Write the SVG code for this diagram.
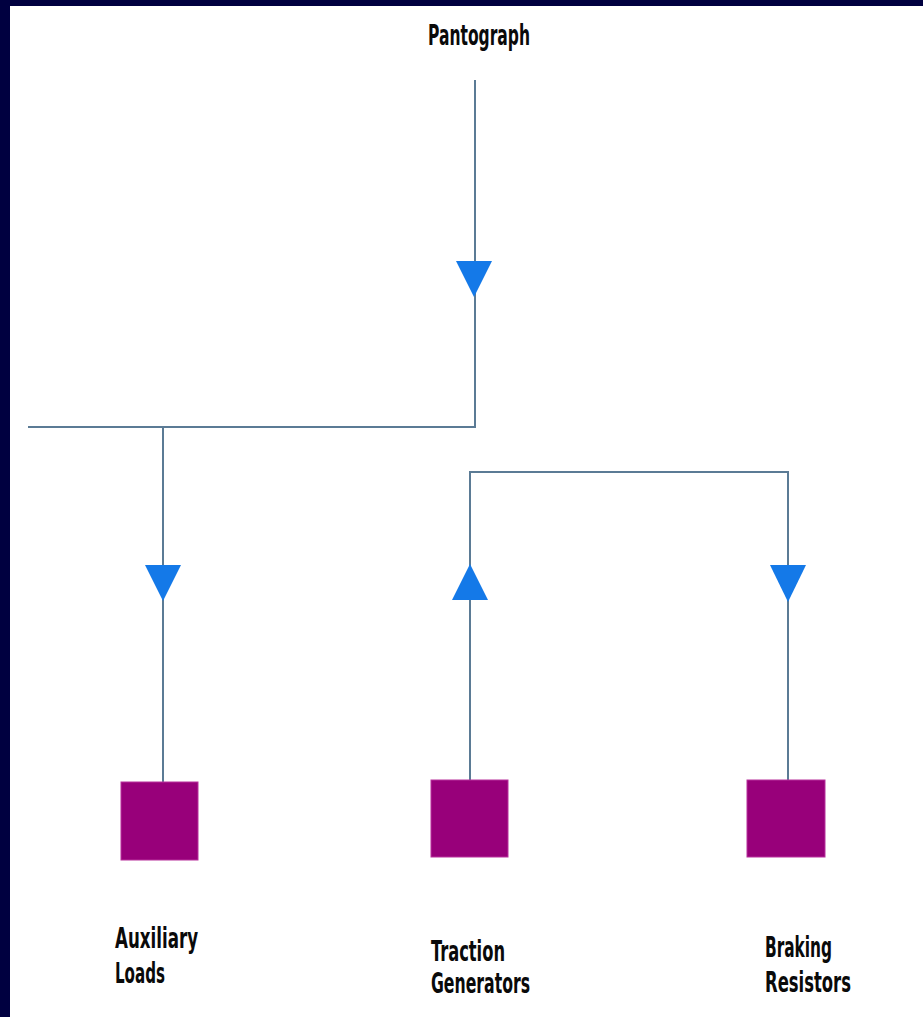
<svg xmlns="http://www.w3.org/2000/svg" width="923" height="1017" viewBox="0 0 923 1017">
<style>
.wire{fill:none;stroke:#5b7b95;stroke-width:2}
.arrow{fill:#1479e8}
.box{fill:#98007a;stroke:#b8309c;stroke-width:1}
.lbl{font-family:"DejaVu Sans Condensed","DejaVu Sans",sans-serif;font-stretch:condensed;font-weight:bold;font-size:28px;fill:#0a0a0a}
</style>
<rect x="0" y="0" width="923" height="1017" fill="#000040"/>
<rect x="10" y="6" width="913" height="1011" fill="#ffffff"/>
<g id="connectors">
<polyline class="wire" points="475,80 475,427 28,427"/>
<polyline class="wire" points="163,427 163,782"/>
<polyline class="wire" points="470,780 470,472 788,472 788,780"/>
<polygon class="arrow" points="456,261 492,261 474,297"/>
<polygon class="arrow" points="145,565 181,565 163,601"/>
<polygon class="arrow" points="452,600 488,600 470,564"/>
<polygon class="arrow" points="770,565 806,565 788,602"/>
</g>
<g id="pantograph">
<text class="lbl" x="428" y="45" textLength="102" lengthAdjust="spacingAndGlyphs">Pantograph</text>
</g>
<g id="auxiliary-loads">
<rect class="box" x="121" y="782" width="77" height="78"/>
<text class="lbl" x="115" y="948" textLength="83" lengthAdjust="spacingAndGlyphs">Auxiliary</text>
<text class="lbl" x="115" y="983" textLength="50" lengthAdjust="spacingAndGlyphs">Loads</text>
</g>
<g id="traction-generators">
<rect class="box" x="431" y="780" width="77" height="77"/>
<text class="lbl" x="431" y="961" textLength="74" lengthAdjust="spacingAndGlyphs">Traction</text>
<text class="lbl" x="431" y="993" textLength="99" lengthAdjust="spacingAndGlyphs">Generators</text>
</g>
<g id="braking-resistors">
<rect class="box" x="747" y="780" width="78" height="77"/>
<text class="lbl" x="765" y="957" textLength="67" lengthAdjust="spacingAndGlyphs">Braking</text>
<text class="lbl" x="765" y="992" textLength="86" lengthAdjust="spacingAndGlyphs">Resistors</text>
</g>
</svg>
